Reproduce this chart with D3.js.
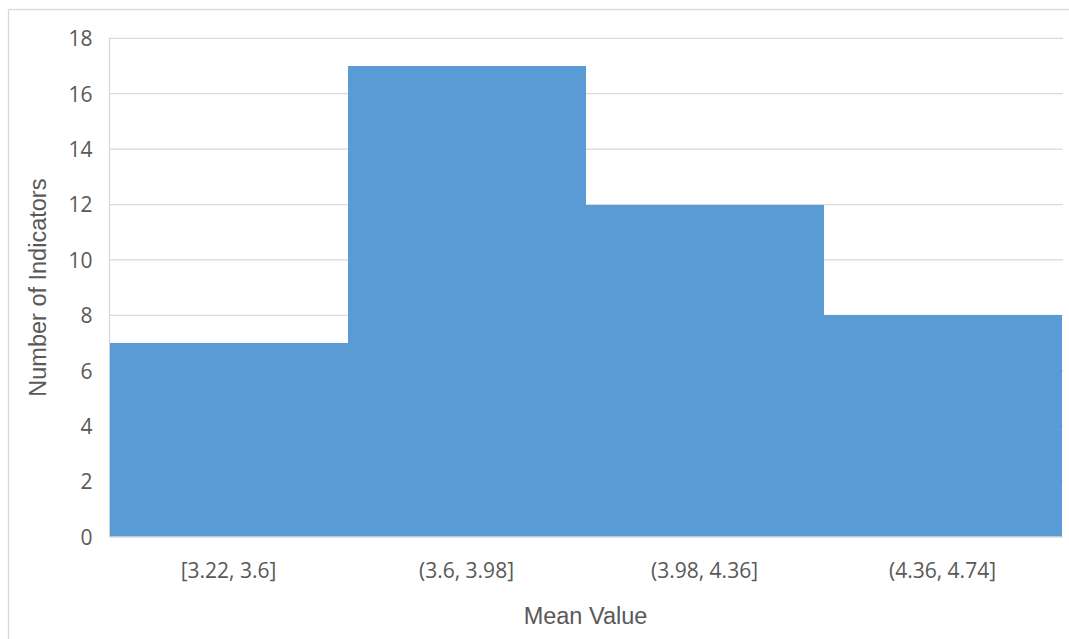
<!DOCTYPE html>
<html>
<head>
<meta charset="utf-8">
<script src="https://cdn.jsdelivr.net/npm/d3@7"></script>
<style>
  html, body { margin: 0; padding: 0; background: #fff; }
  svg { display: block; }
</style>
</head>
<body>
<svg id="chart" width="1069" height="639"></svg>
<script>
// Histogram bins and counts
const bins = ["[3.22, 3.6]", "(3.6, 3.98]", "(3.98, 4.36]", "(4.36, 4.74]"];
const counts = [7, 17, 12, 8];
const yTicks = [0, 2, 4, 6, 8, 10, 12, 14, 16, 18];

const svg = d3.select("#chart");
const W = 1069, H = 639;
const plot = { left: 109.5, right: 1061.5, top: 38.3, bottom: 537 };

// Chart frame (open on the right and bottom)
svg.append("rect")
  .attr("x", 8.5).attr("y", 9.5)
  .attr("width", W + 20).attr("height", H + 20)
  .attr("fill", "#fff")
  .attr("stroke", "#d9d9d9").attr("stroke-width", 1.3);

const x = d3.scaleBand().domain(bins).range([plot.left, plot.right]).padding(0);
const y = d3.scaleLinear().domain([0, 18]).range([plot.bottom, plot.top]);

// Horizontal gridlines
svg.append("g")
  .selectAll("line")
  .data(yTicks.filter(t => t > 0))
  .join("line")
  .attr("x1", plot.left).attr("x2", plot.right + 1.5)
  .attr("y1", d => y(d)).attr("y2", d => y(d))
  .attr("stroke", "#d9d9d9").attr("stroke-width", 1.3);

// Value axis line
svg.append("line")
  .attr("x1", plot.left).attr("x2", plot.left)
  .attr("y1", plot.top).attr("y2", plot.bottom)
  .attr("stroke", "#d9d9d9").attr("stroke-width", 1.3);

// Bars (adjacent, no gaps)
svg.append("g")
  .attr("shape-rendering", "crispEdges")
  .selectAll("rect")
  .data(counts)
  .join("rect")
  .attr("x", (d, i) => Math.round(x(bins[i])))
  .attr("width", (d, i) => Math.round(x(bins[i]) + x.bandwidth()) - Math.round(x(bins[i])))
  .attr("y", d => y(d))
  .attr("height", d => y(0) - y(d))
  .attr("fill", "#5b9bd5");

// Category axis line
svg.append("line")
  .attr("x1", plot.left).attr("x2", plot.right + 1.5)
  .attr("y1", y(0)).attr("y2", y(0))
  .attr("stroke", "#d9d9d9").attr("stroke-width", 1.5);

// Y axis tick labels
const yAxis = d3.axisLeft(y).tickValues(yTicks).tickSize(0).tickPadding(0);
const gy = svg.append("g")
  .attr("transform", `translate(${plot.left - 17},0)`)
  .call(yAxis);
gy.select(".domain").remove();
gy.selectAll("text")
  .attr("font-family", "'Open Sans', sans-serif")
  .attr("font-size", 21)
  .attr("fill", "#595959")
  .attr("dy", "0.35em");

// X axis category labels
const xAxis = d3.axisBottom(x).tickSize(0).tickPadding(0);
const gx = svg.append("g")
  .attr("transform", `translate(0,${y(0) + 33.5})`)
  .call(xAxis);
gx.select(".domain").remove();
gx.selectAll("text")
  .attr("font-family", "'Open Sans', sans-serif")
  .attr("font-size", 21)
  .attr("fill", "#595959")
  .attr("dy", "0.35em");

// Axis titles
svg.append("text")
  .attr("x", (plot.left + plot.right) / 2)
  .attr("y", 624)
  .attr("text-anchor", "middle")
  .attr("font-family", "'Liberation Sans', Arial, sans-serif")
  .attr("font-size", 23.5)
  .attr("fill", "#595959")
  .text("Mean Value");

svg.append("text")
  .attr("transform", `translate(45.5,${(plot.top + plot.bottom) / 2}) rotate(-90)`)
  .attr("text-anchor", "middle")
  .attr("font-family", "'Liberation Sans', Arial, sans-serif")
  .attr("font-size", 23.5)
  .attr("fill", "#595959")
  .text("Number of Indicators");
</script>
</body>
</html>
